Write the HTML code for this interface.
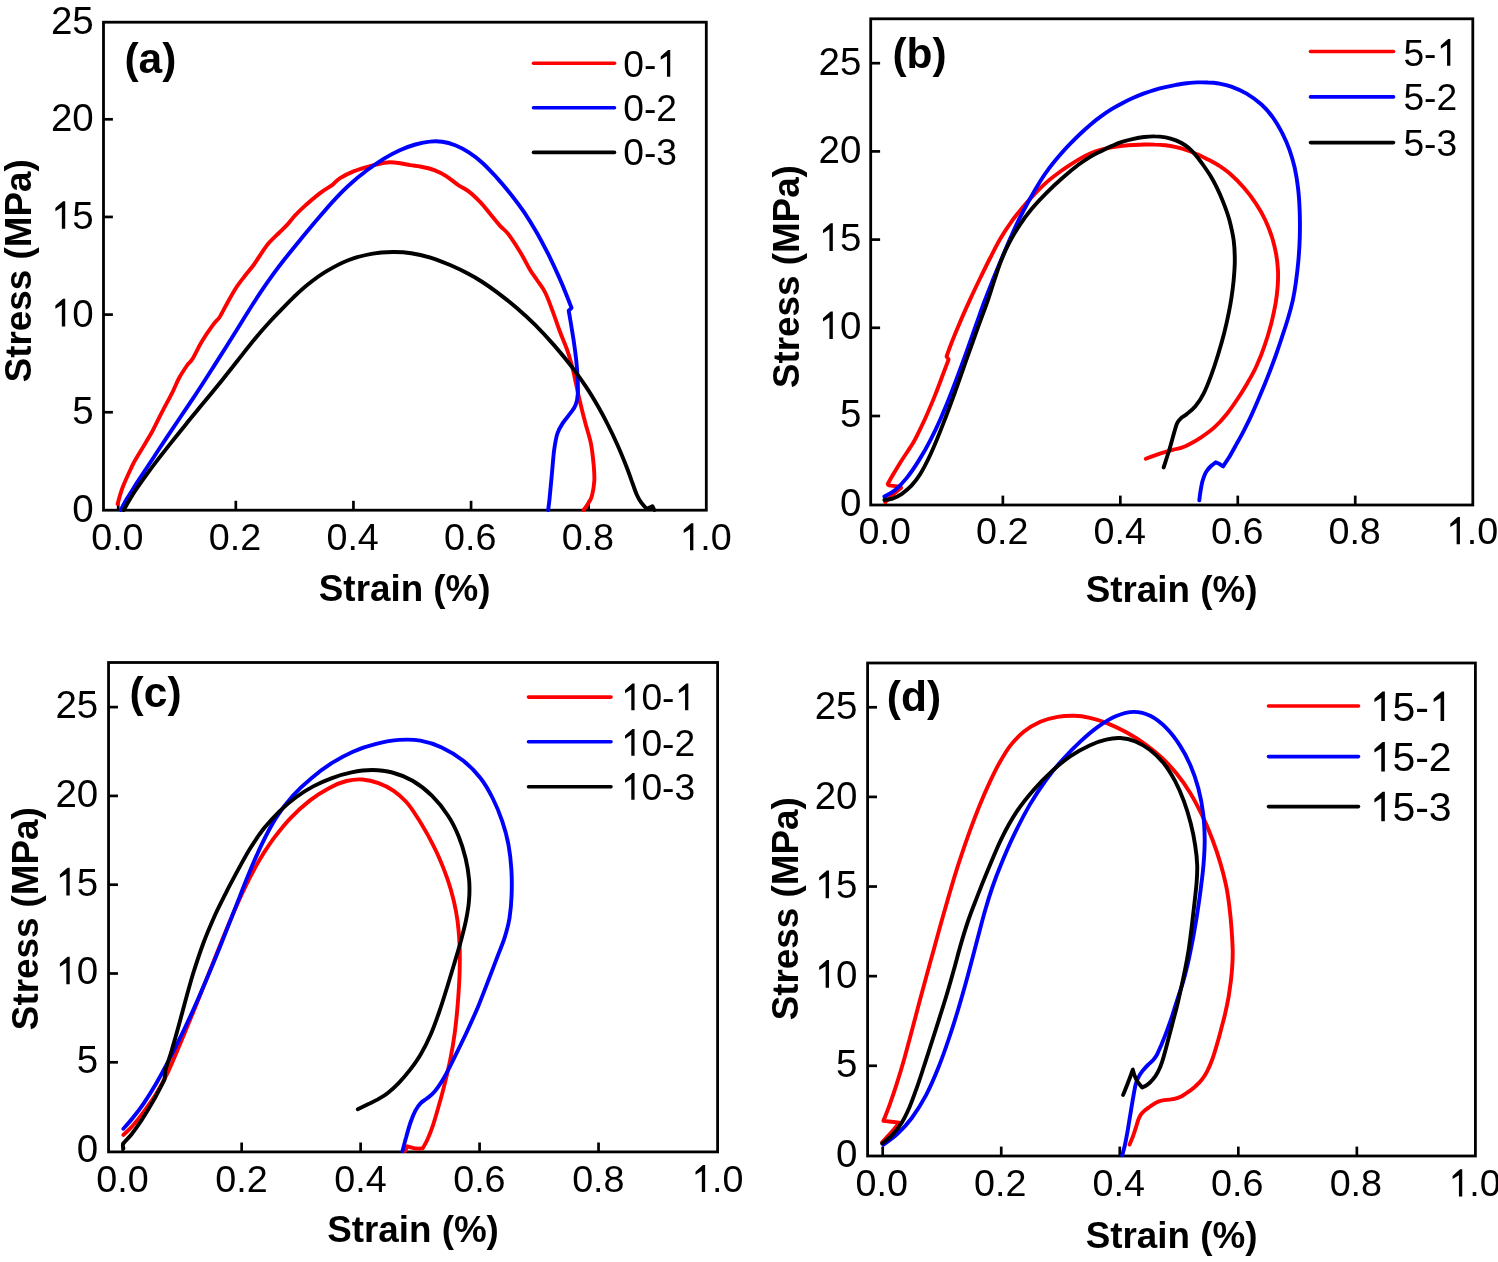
<!DOCTYPE html>
<html><head><meta charset="utf-8"><title>Stress-strain curves</title>
<style>html,body{margin:0;padding:0;background:#fff;overflow:hidden}svg{display:block;will-change:transform}</style></head>
<body><svg width="1498" height="1262" viewBox="0 0 1498 1262">
<rect width="1498" height="1262" fill="#fff"/>
<rect x="103.50" y="22.20" width="602.80" height="488.00" fill="none" stroke="#000" stroke-width="2.8"/>
<line x1="103.50" y1="412.25" x2="112.90" y2="412.25" stroke="#000" stroke-width="2.7"/>
<line x1="103.50" y1="314.60" x2="112.90" y2="314.60" stroke="#000" stroke-width="2.7"/>
<line x1="103.50" y1="216.95" x2="112.90" y2="216.95" stroke="#000" stroke-width="2.7"/>
<line x1="103.50" y1="119.30" x2="112.90" y2="119.30" stroke="#000" stroke-width="2.7"/>
<line x1="118.20" y1="510.20" x2="118.20" y2="500.80" stroke="#000" stroke-width="2.7"/>
<line x1="235.82" y1="510.20" x2="235.82" y2="500.80" stroke="#000" stroke-width="2.7"/>
<line x1="353.44" y1="510.20" x2="353.44" y2="500.80" stroke="#000" stroke-width="2.7"/>
<line x1="471.06" y1="510.20" x2="471.06" y2="500.80" stroke="#000" stroke-width="2.7"/>
<line x1="588.68" y1="510.20" x2="588.68" y2="500.80" stroke="#000" stroke-width="2.7"/>
<text x="72.29" y="521.80" font-family="Liberation Sans, sans-serif" font-size="38.5">0</text>
<text x="72.29" y="424.15" font-family="Liberation Sans, sans-serif" font-size="38.5">5</text>
<path d="M65.22,326.50 L61.84,326.50 L61.84,304.94 L55.39,308.83 L55.39,305.60 Q59.34,301.97 63.06,298.83 L65.22,298.83 Z" fill="#000"/>
<text x="72.29" y="326.50" font-family="Liberation Sans, sans-serif" font-size="38.5">0</text>
<path d="M65.22,228.85 L61.84,228.85 L61.84,207.29 L55.39,211.18 L55.39,207.95 Q59.34,204.32 63.06,201.18 L65.22,201.18 Z" fill="#000"/>
<text x="72.29" y="228.85" font-family="Liberation Sans, sans-serif" font-size="38.5">5</text>
<text x="50.88" y="131.20" font-family="Liberation Sans, sans-serif" font-size="38.5">20</text>
<text x="50.88" y="33.55" font-family="Liberation Sans, sans-serif" font-size="38.5">25</text>
<text x="91.20" y="550.30" font-family="Liberation Sans, sans-serif" font-size="37.7">0.0</text>
<text x="208.82" y="550.30" font-family="Liberation Sans, sans-serif" font-size="37.7">0.2</text>
<text x="326.44" y="550.30" font-family="Liberation Sans, sans-serif" font-size="37.7">0.4</text>
<text x="444.06" y="550.30" font-family="Liberation Sans, sans-serif" font-size="37.7">0.6</text>
<text x="561.68" y="550.30" font-family="Liberation Sans, sans-serif" font-size="37.7">0.8</text>
<path d="M693.34,550.30 L690.03,550.30 L690.03,529.19 L683.71,533.00 L683.71,529.83 Q687.58,526.28 691.22,523.20 L693.34,523.20 Z" fill="#000"/>
<text x="700.26" y="550.30" font-family="Liberation Sans, sans-serif" font-size="37.7">.0</text>
<text x="404.70" y="600.70" font-family="Liberation Sans, sans-serif" font-size="36.8" font-weight="bold" text-anchor="middle">Strain (%)</text>
<text transform="translate(31.00,270.80) rotate(-90)" font-family="Liberation Sans, sans-serif" font-size="36.8" font-weight="bold" text-anchor="middle">Stress (MPa)</text>
<text x="124.40" y="72.90" font-family="Liberation Sans, sans-serif" font-size="42.5" font-weight="bold">(a)</text>
<line x1="533.50" y1="63.30" x2="614.50" y2="63.30" stroke="#ff0000" stroke-width="3.6" stroke-linecap="round"/>
<text x="623.30" y="76.80" font-family="Liberation Sans, sans-serif" font-size="37.2">0-</text>
<path d="M670.24,76.80 L666.97,76.80 L666.97,55.97 L660.74,59.73 L660.74,56.60 Q664.55,53.10 668.15,50.06 L670.24,50.06 Z" fill="#000"/>
<line x1="533.50" y1="107.70" x2="614.50" y2="107.70" stroke="#0000ff" stroke-width="3.6" stroke-linecap="round"/>
<text x="623.30" y="121.20" font-family="Liberation Sans, sans-serif" font-size="37.2">0-2</text>
<line x1="533.50" y1="152.40" x2="614.50" y2="152.40" stroke="#000000" stroke-width="3.6" stroke-linecap="round"/>
<text x="623.30" y="165.30" font-family="Liberation Sans, sans-serif" font-size="37.2">0-3</text>
<path d="M117.6,504.0 C118.4,501.2 120.4,493.2 122.6,487.5 C124.8,481.8 128.4,474.0 130.5,469.5 C132.6,465.0 132.6,464.7 135.0,460.4 C137.4,456.1 142.2,448.6 145.2,443.5 C148.2,438.4 150.3,435.2 153.1,429.9 C155.9,424.6 158.9,418.1 162.1,411.9 C165.3,405.7 169.5,398.2 172.3,392.6 C175.1,387.0 176.7,382.5 179.1,378.0 C181.5,373.5 184.8,368.7 187.0,365.5 C189.2,362.3 190.2,362.8 192.6,358.8 C195.0,354.9 198.3,347.5 201.7,341.8 C205.1,336.1 210.0,329.0 213.0,324.9 C216.0,320.8 217.4,320.4 219.7,317.0 C221.9,313.6 223.9,309.2 226.5,304.5 C229.1,299.8 232.5,293.4 235.5,288.7 C238.5,284.0 241.6,280.2 244.6,276.3 C247.6,272.4 251.0,268.6 253.6,265.0 C256.2,261.4 257.9,258.4 260.4,254.8 C262.9,251.2 265.7,246.7 268.8,243.1 C271.9,239.5 275.7,236.2 278.9,233.0 C282.1,229.8 285.3,226.8 287.8,224.1 C290.3,221.3 291.6,219.2 294.1,216.5 C296.6,213.8 298.7,211.5 303.0,207.6 C307.3,203.7 315.2,196.8 320.1,193.1 C325.0,189.3 328.8,187.6 332.1,185.1 C335.4,182.6 336.4,180.4 340.1,178.1 C343.8,175.8 349.1,173.1 354.1,171.1 C359.1,169.1 365.1,167.5 370.1,166.1 C375.1,164.7 380.2,163.3 384.2,162.7 C388.2,162.1 389.9,162.1 394.2,162.5 C398.5,162.9 405.9,164.4 410.2,165.1 C414.5,165.8 416.2,165.7 420.2,166.5 C424.2,167.3 429.9,168.5 434.2,170.1 C438.5,171.7 442.2,173.6 446.2,176.1 C450.2,178.6 454.6,182.6 458.3,185.1 C462.0,187.6 464.6,188.3 468.3,191.1 C472.0,193.9 476.6,198.3 480.3,202.1 C484.0,205.9 487.0,210.1 490.3,214.1 C493.6,218.1 497.3,222.8 500.3,226.1 C503.3,229.4 505.0,229.8 508.3,234.2 C511.6,238.5 516.6,246.2 520.3,252.2 C524.0,258.2 527.5,265.6 530.3,270.2 C533.1,274.8 534.5,276.2 537.0,280.0 C539.5,283.8 542.8,287.7 545.4,293.0 C548.0,298.3 550.5,305.4 552.8,311.6 C555.1,317.8 557.1,324.1 559.4,330.3 C561.7,336.5 564.6,342.7 566.8,348.9 C569.0,355.1 570.8,361.6 572.4,367.5 C574.0,373.4 574.9,378.6 576.1,384.2 C577.3,389.8 578.2,394.5 579.8,401.0 C581.3,407.5 583.5,416.2 585.4,423.3 C587.3,430.4 589.6,436.7 591.0,443.8 C592.4,450.9 593.2,460.0 593.8,466.2 C594.3,472.4 594.6,476.1 594.3,481.0 C594.0,485.9 592.9,492.2 591.9,495.9 C590.9,499.6 589.6,501.0 588.2,503.4 C586.8,505.8 584.4,508.9 583.6,510.0" fill="none" stroke="#ff0000" stroke-width="3.9" stroke-linejoin="round" stroke-linecap="round"/>
<path d="M120.8,510.0 C121.8,508.1 124.3,503.1 127.0,498.6 C129.8,494.0 133.0,489.0 137.0,482.6 C141.1,476.3 146.5,468.2 151.6,460.5 C156.6,452.8 162.3,444.1 167.3,436.6 C172.3,429.1 176.9,422.3 181.5,415.5 C186.1,408.7 190.4,402.5 194.9,395.7 C199.4,388.9 203.9,381.8 208.4,374.8 C212.9,367.7 217.5,360.5 222.0,353.4 C226.6,346.2 231.2,338.8 235.6,331.7 C240.1,324.6 244.4,317.4 248.7,310.7 C252.9,304.0 257.0,297.6 261.0,291.7 C265.0,285.7 268.7,280.4 272.7,274.9 C276.7,269.4 280.2,264.7 284.9,258.8 C289.6,252.9 295.0,246.3 300.7,239.3 C306.4,232.4 313.2,224.1 319.1,217.3 C324.9,210.4 330.5,203.9 335.8,198.3 C341.1,192.7 345.7,188.1 350.9,183.5 C356.1,178.8 361.6,174.4 367.0,170.3 C372.5,166.2 378.2,162.2 383.6,158.8 C389.1,155.5 394.5,152.6 399.8,150.2 C405.1,147.8 410.4,145.9 415.4,144.5 C420.4,143.1 425.2,142.0 429.7,141.6 C434.1,141.1 438.0,141.1 442.2,141.7 C446.5,142.3 450.7,143.5 455.2,145.3 C459.7,147.1 464.6,149.6 469.2,152.6 C473.8,155.5 478.3,159.1 482.8,163.2 C487.3,167.3 491.7,172.1 496.3,177.1 C500.9,182.2 505.7,187.9 510.4,193.7 C515.0,199.6 519.7,205.7 524.1,212.1 C528.4,218.6 532.6,225.3 536.7,232.4 C540.7,239.4 544.7,247.1 548.4,254.4 C552.0,261.7 555.7,269.7 558.7,276.4 C561.7,283.1 564.5,289.9 566.4,294.7 C568.4,299.5 569.6,302.9 570.4,305.1 C571.3,307.2 571.3,307.4 571.5,307.9 C571.0,308.4 569.2,310.2 568.7,310.7 C569.1,312.9 570.1,318.9 571.0,324.0 C571.8,329.1 572.9,335.4 573.8,341.5 C574.7,347.6 575.6,354.5 576.3,360.7 C576.9,366.8 577.4,373.0 577.6,378.5 C577.9,384.1 578.1,389.5 577.8,393.8 C577.5,398.2 577.0,401.5 575.7,404.7 C574.5,407.9 572.5,410.2 570.4,413.2 C568.3,416.1 565.3,419.2 563.1,422.6 C561.0,425.9 558.9,428.9 557.4,433.5 C555.9,438.1 555.1,443.2 554.1,450.3 C553.2,457.4 552.5,467.9 551.7,476.0 C550.9,484.1 550.1,493.5 549.5,499.2 C548.9,504.8 548.4,508.2 548.2,510.0" fill="none" stroke="#0000ff" stroke-width="3.9" stroke-linejoin="round" stroke-linecap="round"/>
<path d="M123.7,510.0 C125.5,506.9 130.4,498.2 134.7,491.5 C139.1,484.9 144.2,477.7 149.7,470.3 C155.2,462.9 161.6,454.7 167.6,447.1 C173.5,439.6 179.6,432.0 185.4,424.9 C191.1,417.8 196.5,411.4 202.1,404.6 C207.8,397.8 213.1,391.4 219.0,384.1 C224.9,376.8 231.4,368.4 237.5,360.7 C243.6,353.0 250.2,344.5 255.6,338.0 C261.0,331.5 265.5,326.5 269.8,321.8 C274.1,317.0 277.4,313.7 281.4,309.6 C285.4,305.5 289.3,301.3 293.7,297.1 C298.2,292.9 302.7,288.6 308.1,284.3 C313.5,280.0 319.5,275.4 326.2,271.4 C332.9,267.4 340.7,263.1 348.2,260.2 C355.8,257.2 364.0,255.2 371.4,253.8 C378.8,252.5 385.9,252.1 392.5,252.0 C399.1,251.9 404.8,252.2 411.2,253.2 C417.5,254.1 423.8,255.6 430.4,257.6 C437.0,259.6 444.5,262.7 450.7,265.3 C456.9,268.0 462.7,270.8 467.8,273.5 C473.0,276.2 476.7,278.3 481.6,281.5 C486.6,284.7 491.7,288.3 497.5,292.6 C503.2,296.9 509.9,302.1 516.2,307.5 C522.5,312.9 529.0,318.8 535.4,325.1 C541.7,331.4 548.2,338.5 554.2,345.4 C560.2,352.3 566.3,359.7 571.6,366.6 C576.9,373.5 581.7,380.2 586.1,386.8 C590.5,393.4 594.3,399.8 598.0,406.2 C601.6,412.5 604.8,418.5 608.0,425.0 C611.3,431.5 614.4,438.1 617.5,445.0 C620.5,451.9 623.9,460.0 626.4,466.5 C629.0,473.0 631.1,479.3 632.8,484.0 C634.5,488.7 635.4,491.7 636.8,494.7 C638.1,497.7 639.4,499.9 641.1,502.3 C642.8,504.7 645.9,507.9 646.8,509.0 C647.3,508.8 648.9,508.0 649.8,507.5 C650.8,507.1 652.0,506.4 652.4,506.2 C652.7,506.8 654.0,509.4 654.3,510.0" fill="none" stroke="#000000" stroke-width="3.9" stroke-linejoin="round" stroke-linecap="round"/>
<rect x="870.70" y="18.80" width="602.10" height="486.20" fill="none" stroke="#000" stroke-width="2.8"/>
<line x1="870.70" y1="416.00" x2="880.10" y2="416.00" stroke="#000" stroke-width="2.7"/>
<line x1="870.70" y1="327.80" x2="880.10" y2="327.80" stroke="#000" stroke-width="2.7"/>
<line x1="870.70" y1="239.60" x2="880.10" y2="239.60" stroke="#000" stroke-width="2.7"/>
<line x1="870.70" y1="151.40" x2="880.10" y2="151.40" stroke="#000" stroke-width="2.7"/>
<line x1="870.70" y1="63.20" x2="880.10" y2="63.20" stroke="#000" stroke-width="2.7"/>
<line x1="885.40" y1="505.00" x2="885.40" y2="495.60" stroke="#000" stroke-width="2.7"/>
<line x1="1002.86" y1="505.00" x2="1002.86" y2="495.60" stroke="#000" stroke-width="2.7"/>
<line x1="1120.32" y1="505.00" x2="1120.32" y2="495.60" stroke="#000" stroke-width="2.7"/>
<line x1="1237.78" y1="505.00" x2="1237.78" y2="495.60" stroke="#000" stroke-width="2.7"/>
<line x1="1355.24" y1="505.00" x2="1355.24" y2="495.60" stroke="#000" stroke-width="2.7"/>
<text x="839.89" y="515.50" font-family="Liberation Sans, sans-serif" font-size="38.5">0</text>
<text x="839.89" y="427.30" font-family="Liberation Sans, sans-serif" font-size="38.5">5</text>
<path d="M832.82,339.10 L829.44,339.10 L829.44,317.54 L822.99,321.43 L822.99,318.20 Q826.94,314.57 830.66,311.43 L832.82,311.43 Z" fill="#000"/>
<text x="839.89" y="339.10" font-family="Liberation Sans, sans-serif" font-size="38.5">0</text>
<path d="M832.82,250.90 L829.44,250.90 L829.44,229.34 L822.99,233.23 L822.99,230.00 Q826.94,226.37 830.66,223.23 L832.82,223.23 Z" fill="#000"/>
<text x="839.89" y="250.90" font-family="Liberation Sans, sans-serif" font-size="38.5">5</text>
<text x="818.48" y="162.70" font-family="Liberation Sans, sans-serif" font-size="38.5">20</text>
<text x="818.48" y="74.50" font-family="Liberation Sans, sans-serif" font-size="38.5">25</text>
<text x="858.60" y="544.20" font-family="Liberation Sans, sans-serif" font-size="37.7">0.0</text>
<text x="976.06" y="544.20" font-family="Liberation Sans, sans-serif" font-size="37.7">0.2</text>
<text x="1093.52" y="544.20" font-family="Liberation Sans, sans-serif" font-size="37.7">0.4</text>
<text x="1210.98" y="544.20" font-family="Liberation Sans, sans-serif" font-size="37.7">0.6</text>
<text x="1328.44" y="544.20" font-family="Liberation Sans, sans-serif" font-size="37.7">0.8</text>
<path d="M1459.94,544.20 L1456.63,544.20 L1456.63,523.09 L1450.31,526.90 L1450.31,523.73 Q1454.18,520.18 1457.82,517.10 L1459.94,517.10 Z" fill="#000"/>
<text x="1466.86" y="544.20" font-family="Liberation Sans, sans-serif" font-size="37.7">.0</text>
<text x="1171.60" y="602.10" font-family="Liberation Sans, sans-serif" font-size="36.8" font-weight="bold" text-anchor="middle">Strain (%)</text>
<text transform="translate(799.20,276.60) rotate(-90)" font-family="Liberation Sans, sans-serif" font-size="36.8" font-weight="bold" text-anchor="middle">Stress (MPa)</text>
<text x="892.40" y="67.70" font-family="Liberation Sans, sans-serif" font-size="42.5" font-weight="bold">(b)</text>
<line x1="1310.50" y1="51.50" x2="1393.50" y2="51.50" stroke="#ff0000" stroke-width="3.6" stroke-linecap="round"/>
<text x="1403.40" y="65.70" font-family="Liberation Sans, sans-serif" font-size="37.2">5-</text>
<path d="M1450.34,65.70 L1447.07,65.70 L1447.07,44.87 L1440.84,48.63 L1440.84,45.50 Q1444.65,42.00 1448.25,38.96 L1450.34,38.96 Z" fill="#000"/>
<line x1="1310.50" y1="96.90" x2="1393.50" y2="96.90" stroke="#0000ff" stroke-width="3.6" stroke-linecap="round"/>
<text x="1403.40" y="110.10" font-family="Liberation Sans, sans-serif" font-size="37.2">5-2</text>
<line x1="1310.50" y1="142.60" x2="1393.50" y2="142.60" stroke="#000000" stroke-width="3.6" stroke-linecap="round"/>
<text x="1403.40" y="156.10" font-family="Liberation Sans, sans-serif" font-size="37.2">5-3</text>
<path d="M885.3,502.1 C886.6,500.9 890.4,497.1 893.1,494.7 C895.7,492.3 899.8,488.9 901.1,487.7 C900.4,487.5 899.0,486.7 897.0,486.3 C894.9,485.9 890.5,485.7 889.0,485.3 C887.5,484.9 888.0,484.1 887.8,483.8 C888.6,482.4 890.5,479.0 892.5,475.6 C894.5,472.2 897.4,467.3 899.9,463.2 C902.5,459.1 905.7,454.3 907.9,451.0 C910.1,447.6 911.6,445.6 913.1,442.9 C914.7,440.2 915.5,438.7 917.5,434.6 C919.5,430.6 922.1,425.3 925.1,418.8 C928.0,412.2 932.0,402.9 935.0,395.4 C938.0,388.0 940.9,379.9 943.1,374.0 C945.4,368.0 947.7,362.0 948.6,359.6 C948.3,359.1 946.9,356.9 946.6,356.4 C947.3,354.4 948.8,349.9 950.9,344.5 C953.0,339.0 956.1,331.4 959.4,323.7 C962.6,316.0 967.0,306.3 970.6,298.4 C974.2,290.5 977.8,283.1 981.1,276.3 C984.4,269.5 987.2,263.7 990.4,257.5 C993.6,251.2 996.8,244.8 1000.3,238.8 C1003.8,232.8 1007.7,226.8 1011.5,221.6 C1015.2,216.4 1018.9,212.1 1022.6,207.6 C1026.3,203.2 1029.7,199.2 1033.6,195.1 C1037.5,191.0 1041.6,186.8 1045.7,183.1 C1049.9,179.3 1054.6,175.8 1058.7,172.8 C1062.8,169.7 1066.8,167.1 1070.5,164.7 C1074.1,162.3 1077.2,160.3 1080.6,158.4 C1084.0,156.5 1087.2,154.8 1090.7,153.3 C1094.1,151.9 1097.8,150.7 1101.3,149.7 C1104.9,148.7 1108.5,148.0 1112.0,147.3 C1115.6,146.7 1119.1,146.3 1122.7,145.9 C1126.3,145.5 1129.8,145.2 1133.4,145.0 C1137.0,144.8 1140.5,144.6 1144.1,144.5 C1147.7,144.5 1151.2,144.4 1154.8,144.6 C1158.3,144.7 1161.9,144.9 1165.4,145.3 C1169.0,145.7 1172.5,146.3 1176.1,147.1 C1179.7,147.9 1183.2,148.9 1186.8,150.1 C1190.4,151.3 1194.0,152.8 1197.5,154.4 C1201.1,155.9 1204.5,157.7 1208.1,159.5 C1211.6,161.4 1215.0,163.1 1218.8,165.5 C1222.5,168.0 1226.5,170.6 1230.6,174.3 C1234.8,178.0 1239.5,182.7 1243.7,187.6 C1247.9,192.4 1252.2,198.0 1255.8,203.3 C1259.4,208.7 1262.5,214.1 1265.1,219.7 C1267.8,225.3 1270.0,231.1 1271.9,236.9 C1273.7,242.7 1275.2,248.8 1276.2,254.4 C1277.2,260.1 1277.7,265.4 1278.0,270.7 C1278.2,276.0 1278.1,280.6 1277.7,286.0 C1277.3,291.3 1276.7,296.7 1275.7,302.9 C1274.6,309.1 1273.1,316.2 1271.3,323.4 C1269.4,330.6 1266.9,339.0 1264.4,346.2 C1262.0,353.4 1259.1,360.4 1256.3,366.5 C1253.5,372.7 1250.6,377.6 1247.5,382.9 C1244.4,388.3 1241.2,393.3 1237.8,398.5 C1234.4,403.6 1230.8,409.1 1227.0,413.8 C1223.2,418.6 1219.2,423.1 1214.9,426.9 C1210.7,430.8 1205.8,434.2 1201.5,437.1 C1197.3,440.0 1192.8,442.5 1189.4,444.3 C1186.0,446.1 1183.7,447.0 1181.1,447.9 C1178.4,448.8 1176.6,448.8 1173.4,449.6 C1170.1,450.5 1166.0,451.6 1161.4,453.1 C1156.8,454.6 1148.4,457.8 1145.8,458.8" fill="none" stroke="#ff0000" stroke-width="3.9" stroke-linejoin="round" stroke-linecap="round"/>
<path d="M884.4,496.5 C886.2,495.5 891.2,493.3 894.9,490.2 C898.7,487.1 902.7,483.0 906.8,477.9 C910.8,472.9 915.3,466.2 919.2,459.9 C923.2,453.6 926.9,447.0 930.4,440.1 C934.0,433.2 937.1,426.7 940.7,418.5 C944.3,410.2 948.2,400.9 952.1,390.7 C956.1,380.6 960.6,368.2 964.5,357.5 C968.4,346.7 972.2,335.6 975.5,326.3 C978.9,316.9 981.6,309.1 984.5,301.3 C987.4,293.5 990.2,286.6 993.1,279.3 C996.0,272.0 999.1,264.6 1002.0,257.7 C1005.0,250.7 1007.8,244.0 1010.6,237.6 C1013.5,231.2 1016.2,225.2 1019.1,219.2 C1022.1,213.3 1025.2,207.5 1028.3,201.8 C1031.4,196.2 1034.5,190.6 1037.7,185.4 C1040.9,180.1 1044.0,175.2 1047.6,170.4 C1051.1,165.5 1055.0,160.8 1058.8,156.3 C1062.6,151.9 1066.6,147.5 1070.3,143.7 C1073.9,139.9 1077.2,136.7 1080.6,133.5 C1084.0,130.2 1087.2,127.3 1090.7,124.4 C1094.1,121.5 1097.8,118.6 1101.3,116.1 C1104.9,113.5 1108.5,111.1 1112.0,108.9 C1115.6,106.8 1119.1,104.9 1122.7,103.0 C1126.3,101.1 1129.8,99.4 1133.4,97.8 C1137.0,96.2 1140.5,94.8 1144.1,93.4 C1147.7,92.1 1151.2,90.9 1154.8,89.8 C1158.3,88.8 1161.9,87.9 1165.4,87.1 C1169.0,86.3 1172.5,85.6 1176.1,84.9 C1179.7,84.3 1183.2,83.7 1186.8,83.3 C1190.4,82.9 1194.0,82.5 1197.5,82.4 C1201.1,82.3 1204.5,82.3 1208.0,82.5 C1211.5,82.6 1214.7,82.8 1218.6,83.5 C1222.4,84.2 1226.6,84.9 1231.3,86.6 C1235.9,88.3 1241.6,90.6 1246.6,93.6 C1251.6,96.6 1257.0,100.4 1261.5,104.5 C1266.0,108.6 1270.0,113.4 1273.5,118.3 C1276.9,123.1 1279.8,128.4 1282.5,133.6 C1285.1,138.8 1287.4,144.0 1289.4,149.6 C1291.4,155.3 1293.1,161.0 1294.6,167.3 C1296.0,173.7 1297.2,180.5 1298.0,187.8 C1298.9,195.1 1299.4,203.1 1299.7,211.2 C1300.0,219.4 1300.0,228.2 1299.8,236.6 C1299.6,245.0 1299.0,253.9 1298.3,261.6 C1297.6,269.3 1296.7,276.5 1295.8,282.9 C1294.9,289.4 1294.0,294.6 1292.8,300.3 C1291.5,306.0 1290.1,311.2 1288.4,317.0 C1286.7,322.9 1284.7,329.0 1282.6,335.2 C1280.6,341.5 1278.4,347.9 1276.1,354.5 C1273.7,361.1 1271.2,367.9 1268.5,374.7 C1265.9,381.4 1263.0,388.5 1260.2,395.1 C1257.4,401.8 1254.6,408.4 1251.8,414.4 C1249.1,420.5 1246.2,426.1 1243.5,431.3 C1240.8,436.5 1238.1,441.2 1235.7,445.5 C1233.3,449.9 1231.2,453.8 1229.1,457.3 C1226.9,460.8 1224.1,464.9 1223.1,466.4 C1222.4,466.0 1220.3,464.4 1219.1,463.7 C1217.9,463.1 1216.4,462.5 1215.8,462.3 C1214.9,463.0 1212.2,464.8 1210.5,466.5 C1208.8,468.2 1207.1,470.0 1205.7,472.6 C1204.4,475.1 1203.2,478.5 1202.3,481.7 C1201.5,484.9 1200.9,488.8 1200.4,491.9 C1199.9,495.0 1199.5,499.0 1199.3,500.4" fill="none" stroke="#0000ff" stroke-width="3.9" stroke-linejoin="round" stroke-linecap="round"/>
<path d="M884.4,500.0 C885.8,499.8 889.6,499.7 892.5,498.7 C895.5,497.6 898.8,495.9 901.9,493.8 C904.9,491.7 907.9,489.4 910.9,486.2 C913.8,483.0 916.5,480.2 919.8,474.8 C923.1,469.4 926.8,462.3 930.8,453.7 C934.7,445.1 939.3,433.8 943.4,423.1 C947.6,412.5 951.8,400.9 955.8,389.9 C959.8,378.9 963.6,367.6 967.4,356.9 C971.2,346.3 975.1,335.5 978.4,326.2 C981.8,316.9 984.9,308.7 987.6,301.1 C990.2,293.5 992.1,287.1 994.3,280.5 C996.5,273.9 998.3,267.8 1000.8,261.5 C1003.3,255.2 1006.1,248.9 1009.3,242.7 C1012.5,236.6 1016.2,230.3 1020.0,224.6 C1023.7,218.9 1027.7,213.7 1032.0,208.5 C1036.3,203.4 1040.7,198.7 1045.8,193.6 C1050.8,188.6 1056.6,183.1 1062.1,178.3 C1067.5,173.5 1073.5,168.5 1078.4,164.8 C1083.2,161.1 1087.4,158.6 1091.2,156.2 C1095.1,153.9 1098.1,152.6 1101.6,150.9 C1105.1,149.1 1108.5,147.4 1112.0,145.9 C1115.5,144.3 1119.1,142.8 1122.7,141.7 C1126.3,140.5 1129.8,139.6 1133.4,138.8 C1137.0,138.0 1140.5,137.4 1144.1,137.0 C1147.7,136.6 1151.2,136.3 1154.8,136.4 C1158.4,136.4 1162.1,136.8 1165.6,137.4 C1169.1,138.1 1172.7,139.2 1175.9,140.4 C1179.1,141.7 1182.1,143.3 1184.8,145.0 C1187.4,146.7 1189.7,148.7 1191.8,150.8 C1194.0,153.0 1195.8,155.2 1197.8,157.7 C1199.8,160.3 1201.8,163.0 1203.9,166.0 C1206.0,169.0 1208.2,172.2 1210.3,175.6 C1212.4,179.1 1214.3,182.6 1216.5,186.8 C1218.6,191.1 1220.8,195.8 1222.9,201.4 C1225.1,206.9 1227.6,213.6 1229.4,220.1 C1231.1,226.7 1232.8,233.8 1233.7,240.6 C1234.6,247.5 1234.8,254.5 1234.8,261.2 C1234.8,267.9 1234.1,274.9 1233.6,280.9 C1233.0,287.0 1232.3,292.1 1231.5,297.5 C1230.7,302.8 1229.9,307.2 1228.7,313.2 C1227.5,319.1 1226.0,326.0 1224.2,333.0 C1222.4,340.0 1220.1,348.1 1217.9,355.3 C1215.7,362.5 1213.3,369.7 1210.9,376.1 C1208.5,382.5 1206.2,388.6 1203.6,393.6 C1201.1,398.6 1198.2,402.9 1195.4,406.3 C1192.6,409.7 1189.4,412.0 1186.9,414.0 C1184.4,416.1 1182.2,417.0 1180.6,418.6 C1178.9,420.2 1178.1,421.0 1177.0,423.5 C1175.9,425.9 1175.3,428.9 1174.0,433.1 C1172.8,437.3 1171.3,443.1 1169.6,448.8 C1167.8,454.5 1164.7,464.3 1163.7,467.4" fill="none" stroke="#000000" stroke-width="3.9" stroke-linejoin="round" stroke-linecap="round"/>
<rect x="108.55" y="662.50" width="609.05" height="489.40" fill="none" stroke="#000" stroke-width="2.8"/>
<line x1="108.55" y1="1062.30" x2="117.95" y2="1062.30" stroke="#000" stroke-width="2.7"/>
<line x1="108.55" y1="973.50" x2="117.95" y2="973.50" stroke="#000" stroke-width="2.7"/>
<line x1="108.55" y1="884.70" x2="117.95" y2="884.70" stroke="#000" stroke-width="2.7"/>
<line x1="108.55" y1="795.90" x2="117.95" y2="795.90" stroke="#000" stroke-width="2.7"/>
<line x1="108.55" y1="707.10" x2="117.95" y2="707.10" stroke="#000" stroke-width="2.7"/>
<line x1="122.70" y1="1151.90" x2="122.70" y2="1142.50" stroke="#000" stroke-width="2.7"/>
<line x1="241.66" y1="1151.90" x2="241.66" y2="1142.50" stroke="#000" stroke-width="2.7"/>
<line x1="360.62" y1="1151.90" x2="360.62" y2="1142.50" stroke="#000" stroke-width="2.7"/>
<line x1="479.58" y1="1151.90" x2="479.58" y2="1142.50" stroke="#000" stroke-width="2.7"/>
<line x1="598.54" y1="1151.90" x2="598.54" y2="1142.50" stroke="#000" stroke-width="2.7"/>
<text x="76.79" y="1161.90" font-family="Liberation Sans, sans-serif" font-size="38.5">0</text>
<text x="76.79" y="1073.10" font-family="Liberation Sans, sans-serif" font-size="38.5">5</text>
<path d="M69.72,984.30 L66.34,984.30 L66.34,962.74 L59.89,966.63 L59.89,963.40 Q63.84,959.77 67.56,956.63 L69.72,956.63 Z" fill="#000"/>
<text x="76.79" y="984.30" font-family="Liberation Sans, sans-serif" font-size="38.5">0</text>
<path d="M69.72,895.50 L66.34,895.50 L66.34,873.94 L59.89,877.83 L59.89,874.60 Q63.84,870.97 67.56,867.83 L69.72,867.83 Z" fill="#000"/>
<text x="76.79" y="895.50" font-family="Liberation Sans, sans-serif" font-size="38.5">5</text>
<text x="55.38" y="806.70" font-family="Liberation Sans, sans-serif" font-size="38.5">20</text>
<text x="55.38" y="717.90" font-family="Liberation Sans, sans-serif" font-size="38.5">25</text>
<text x="96.30" y="1192.10" font-family="Liberation Sans, sans-serif" font-size="37.7">0.0</text>
<text x="215.26" y="1192.10" font-family="Liberation Sans, sans-serif" font-size="37.7">0.2</text>
<text x="334.22" y="1192.10" font-family="Liberation Sans, sans-serif" font-size="37.7">0.4</text>
<text x="453.18" y="1192.10" font-family="Liberation Sans, sans-serif" font-size="37.7">0.6</text>
<text x="572.14" y="1192.10" font-family="Liberation Sans, sans-serif" font-size="37.7">0.8</text>
<path d="M705.14,1192.10 L701.83,1192.10 L701.83,1170.99 L695.51,1174.80 L695.51,1171.63 Q699.38,1168.08 703.02,1165.00 L705.14,1165.00 Z" fill="#000"/>
<text x="712.06" y="1192.10" font-family="Liberation Sans, sans-serif" font-size="37.7">.0</text>
<text x="413.00" y="1242.10" font-family="Liberation Sans, sans-serif" font-size="36.8" font-weight="bold" text-anchor="middle">Strain (%)</text>
<text transform="translate(38.10,918.70) rotate(-90)" font-family="Liberation Sans, sans-serif" font-size="36.8" font-weight="bold" text-anchor="middle">Stress (MPa)</text>
<text x="129.60" y="706.50" font-family="Liberation Sans, sans-serif" font-size="42.5" font-weight="bold">(c)</text>
<line x1="528.50" y1="697.10" x2="611.00" y2="697.10" stroke="#ff0000" stroke-width="3.6" stroke-linecap="round"/>
<path d="M634.56,710.30 L631.29,710.30 L631.29,689.47 L625.06,693.23 L625.06,690.10 Q628.87,686.60 632.47,683.56 L634.56,683.56 Z" fill="#000"/>
<text x="641.39" y="710.30" font-family="Liberation Sans, sans-serif" font-size="37.2">0-</text>
<path d="M688.32,710.30 L685.06,710.30 L685.06,689.47 L678.83,693.23 L678.83,690.10 Q682.64,686.60 686.24,683.56 L688.32,683.56 Z" fill="#000"/>
<line x1="528.50" y1="741.80" x2="611.00" y2="741.80" stroke="#0000ff" stroke-width="3.6" stroke-linecap="round"/>
<path d="M634.56,755.70 L631.29,755.70 L631.29,734.87 L625.06,738.63 L625.06,735.50 Q628.87,732.00 632.47,728.96 L634.56,728.96 Z" fill="#000"/>
<text x="641.39" y="755.70" font-family="Liberation Sans, sans-serif" font-size="37.2">0-2</text>
<line x1="528.50" y1="786.80" x2="611.00" y2="786.80" stroke="#000000" stroke-width="3.6" stroke-linecap="round"/>
<path d="M634.56,799.80 L631.29,799.80 L631.29,778.97 L625.06,782.73 L625.06,779.60 Q628.87,776.10 632.47,773.06 L634.56,773.06 Z" fill="#000"/>
<text x="641.39" y="799.80" font-family="Liberation Sans, sans-serif" font-size="37.2">0-3</text>
<path d="M123.4,1134.9 C125.0,1133.4 129.3,1129.6 132.7,1125.7 C136.2,1121.7 140.3,1116.6 144.1,1111.3 C148.0,1106.1 152.1,1100.5 155.9,1094.4 C159.6,1088.2 163.0,1082.3 166.8,1074.4 C170.7,1066.4 174.5,1057.2 178.9,1046.8 C183.3,1036.5 188.3,1024.2 193.2,1012.2 C198.1,1000.2 203.4,987.1 208.2,974.9 C213.1,962.7 218.0,950.4 222.5,939.2 C227.1,928.0 231.6,917.2 235.7,907.8 C239.8,898.3 243.9,889.6 247.3,882.7 C250.7,875.7 253.4,870.9 256.0,866.1 C258.7,861.3 260.2,858.6 263.2,853.9 C266.2,849.3 269.4,844.1 273.9,838.1 C278.4,832.2 284.3,824.6 290.3,818.3 C296.3,812.0 303.5,805.5 310.0,800.4 C316.5,795.3 323.3,791.1 329.4,787.9 C335.4,784.6 340.9,782.4 346.4,781.0 C351.9,779.6 357.0,779.2 362.4,779.5 C367.7,779.9 373.3,781.2 378.5,783.1 C383.8,785.0 389.1,787.6 393.7,790.8 C398.2,793.9 402.2,797.5 406.1,801.8 C410.0,806.1 413.3,811.1 416.9,816.7 C420.6,822.3 424.3,828.7 428.0,835.4 C431.6,842.1 435.5,849.6 438.8,857.0 C442.1,864.4 445.2,872.4 447.7,879.7 C450.2,887.0 452.1,894.0 453.8,900.9 C455.4,907.8 456.6,914.0 457.6,921.3 C458.5,928.6 459.2,936.2 459.6,944.7 C459.9,953.3 459.9,962.9 459.6,972.7 C459.3,982.4 458.6,993.3 457.8,1003.3 C457.0,1013.2 456.0,1023.4 454.8,1032.4 C453.6,1041.5 452.2,1049.6 450.6,1057.8 C449.0,1065.9 447.2,1073.6 445.3,1081.4 C443.4,1089.1 441.3,1097.2 439.2,1104.3 C437.2,1111.5 435.2,1118.5 433.3,1124.3 C431.4,1130.0 429.6,1134.6 427.8,1138.7 C426.1,1142.7 423.6,1146.8 422.7,1148.4 C421.6,1148.4 418.5,1148.9 415.9,1148.5 C413.4,1148.2 408.7,1146.7 407.3,1146.3 C406.9,1147.1 405.6,1150.2 405.2,1151.0" fill="none" stroke="#ff0000" stroke-width="3.9" stroke-linejoin="round" stroke-linecap="round"/>
<path d="M123.4,1128.7 C125.0,1126.9 129.3,1122.3 132.7,1118.0 C136.2,1113.7 140.3,1108.5 144.1,1102.8 C148.0,1097.2 152.1,1090.6 155.9,1084.1 C159.6,1077.7 163.0,1071.5 166.8,1064.2 C170.7,1056.8 174.6,1049.2 179.0,1040.2 C183.4,1031.1 188.5,1020.4 193.3,1009.8 C198.0,999.3 202.9,987.8 207.6,976.8 C212.2,965.9 216.6,955.1 221.1,943.9 C225.6,932.8 230.0,921.3 234.5,910.0 C239.0,898.7 243.4,887.0 247.9,876.1 C252.4,865.2 256.9,854.5 261.5,844.8 C266.2,835.1 270.8,826.1 276.0,817.9 C281.2,809.8 286.7,802.6 292.6,796.0 C298.5,789.3 305.1,783.3 311.7,777.9 C318.2,772.4 324.8,767.5 331.7,763.1 C338.6,758.8 345.5,755.0 352.9,751.7 C360.3,748.5 368.5,745.8 376.2,743.9 C384.0,741.9 392.0,740.4 399.3,739.9 C406.7,739.4 413.4,739.4 420.4,740.7 C427.5,742.0 434.6,744.2 441.7,747.5 C448.8,750.8 456.6,755.5 463.0,760.5 C469.5,765.6 475.4,771.6 480.4,778.0 C485.4,784.3 489.2,791.3 492.8,798.5 C496.5,805.7 499.6,813.5 502.2,821.2 C504.8,828.9 507.0,836.8 508.5,844.9 C510.0,853.0 510.9,861.4 511.4,869.8 C511.9,878.2 511.9,887.3 511.6,895.3 C511.3,903.3 510.6,911.1 509.5,918.1 C508.4,925.0 506.8,930.7 504.8,937.1 C502.8,943.5 500.2,949.4 497.5,956.5 C494.8,963.6 491.9,971.4 488.6,979.8 C485.4,988.1 481.8,997.7 478.1,1006.7 C474.3,1015.6 470.0,1025.0 466.1,1033.5 C462.1,1041.9 458.2,1049.9 454.5,1057.3 C450.8,1064.7 447.4,1071.9 444.0,1077.7 C440.6,1083.5 437.2,1088.5 434.2,1092.0 C431.3,1095.5 428.8,1096.9 426.5,1098.8 C424.2,1100.6 422.5,1101.1 420.7,1103.1 C418.8,1105.1 417.1,1107.4 415.4,1110.7 C413.7,1113.9 412.0,1118.2 410.5,1122.5 C409.0,1126.8 407.6,1131.9 406.3,1136.7 C404.9,1141.4 403.1,1148.6 402.5,1151.0" fill="none" stroke="#0000ff" stroke-width="3.9" stroke-linejoin="round" stroke-linecap="round"/>
<path d="M123.4,1148.4 C123.4,1147.6 122.1,1145.8 123.4,1143.5 C124.7,1141.2 128.3,1138.4 131.4,1134.5 C134.5,1130.5 138.2,1125.4 141.9,1119.7 C145.6,1114.0 149.8,1107.1 153.6,1100.4 C157.3,1093.7 162.7,1083.0 164.5,1079.5 C164.7,1077.9 165.3,1071.6 165.5,1070.0 C166.5,1067.0 169.3,1058.2 171.3,1051.8 C173.2,1045.4 175.0,1039.3 177.1,1031.6 C179.3,1023.9 181.5,1015.2 184.1,1005.7 C186.7,996.1 189.7,984.8 192.9,974.3 C196.2,963.8 199.8,952.8 203.5,942.8 C207.2,932.8 211.4,923.2 215.4,914.2 C219.5,905.3 223.8,897.0 227.8,889.2 C231.8,881.4 235.6,874.4 239.4,867.4 C243.2,860.5 246.6,854.0 250.7,847.5 C254.8,841.0 259.2,834.4 264.0,828.3 C268.9,822.3 274.4,816.3 279.7,811.1 C285.1,805.8 290.8,801.1 296.4,797.0 C302.0,792.9 307.4,789.5 313.2,786.4 C319.1,783.2 325.0,780.6 331.3,778.3 C337.7,775.9 344.7,773.8 351.5,772.4 C358.3,771.0 365.4,770.0 372.2,770.0 C379.0,770.1 385.6,770.7 392.3,772.5 C399.1,774.3 406.0,776.9 412.6,780.8 C419.3,784.7 426.3,790.2 432.1,795.9 C438.0,801.7 443.5,808.7 447.9,815.5 C452.4,822.2 455.8,829.4 458.7,836.5 C461.6,843.6 463.8,851.0 465.6,858.2 C467.3,865.4 468.5,872.7 469.1,879.7 C469.7,886.7 469.6,893.3 469.0,900.3 C468.5,907.3 467.2,914.4 465.7,921.7 C464.2,928.9 462.1,936.4 460.2,943.6 C458.2,950.8 456.1,957.6 453.9,964.8 C451.7,972.0 449.6,979.2 447.2,987.0 C444.8,994.7 442.3,1003.1 439.5,1011.0 C436.8,1018.9 433.9,1027.1 430.8,1034.2 C427.7,1041.4 424.4,1048.0 420.9,1053.9 C417.5,1059.9 413.7,1065.0 410.0,1069.9 C406.2,1074.8 402.2,1079.4 398.4,1083.3 C394.7,1087.1 390.9,1090.5 387.5,1093.2 C384.1,1095.9 381.1,1097.5 377.9,1099.4 C374.7,1101.2 371.8,1102.5 368.5,1104.1 C365.1,1105.8 359.6,1108.4 357.8,1109.2" fill="none" stroke="#000000" stroke-width="3.9" stroke-linejoin="round" stroke-linecap="round"/>
<rect x="867.60" y="663.00" width="607.80" height="493.00" fill="none" stroke="#000" stroke-width="2.8"/>
<line x1="867.60" y1="1065.78" x2="877.00" y2="1065.78" stroke="#000" stroke-width="2.7"/>
<line x1="867.60" y1="976.15" x2="877.00" y2="976.15" stroke="#000" stroke-width="2.7"/>
<line x1="867.60" y1="886.53" x2="877.00" y2="886.53" stroke="#000" stroke-width="2.7"/>
<line x1="867.60" y1="796.90" x2="877.00" y2="796.90" stroke="#000" stroke-width="2.7"/>
<line x1="867.60" y1="707.28" x2="877.00" y2="707.28" stroke="#000" stroke-width="2.7"/>
<line x1="882.70" y1="1156.00" x2="882.70" y2="1146.60" stroke="#000" stroke-width="2.7"/>
<line x1="1001.24" y1="1156.00" x2="1001.24" y2="1146.60" stroke="#000" stroke-width="2.7"/>
<line x1="1119.78" y1="1156.00" x2="1119.78" y2="1146.60" stroke="#000" stroke-width="2.7"/>
<line x1="1238.32" y1="1156.00" x2="1238.32" y2="1146.60" stroke="#000" stroke-width="2.7"/>
<line x1="1356.86" y1="1156.00" x2="1356.86" y2="1146.60" stroke="#000" stroke-width="2.7"/>
<text x="836.09" y="1167.00" font-family="Liberation Sans, sans-serif" font-size="38.5">0</text>
<text x="836.09" y="1077.38" font-family="Liberation Sans, sans-serif" font-size="38.5">5</text>
<path d="M829.02,987.75 L825.64,987.75 L825.64,966.19 L819.19,970.08 L819.19,966.85 Q823.14,963.22 826.86,960.08 L829.02,960.08 Z" fill="#000"/>
<text x="836.09" y="987.75" font-family="Liberation Sans, sans-serif" font-size="38.5">0</text>
<path d="M829.02,898.13 L825.64,898.13 L825.64,876.56 L819.19,880.45 L819.19,877.22 Q823.14,873.59 826.86,870.45 L829.02,870.45 Z" fill="#000"/>
<text x="836.09" y="898.13" font-family="Liberation Sans, sans-serif" font-size="38.5">5</text>
<text x="814.68" y="808.50" font-family="Liberation Sans, sans-serif" font-size="38.5">20</text>
<text x="814.68" y="718.88" font-family="Liberation Sans, sans-serif" font-size="38.5">25</text>
<text x="855.50" y="1196.40" font-family="Liberation Sans, sans-serif" font-size="37.7">0.0</text>
<text x="974.04" y="1196.40" font-family="Liberation Sans, sans-serif" font-size="37.7">0.2</text>
<text x="1092.58" y="1196.40" font-family="Liberation Sans, sans-serif" font-size="37.7">0.4</text>
<text x="1211.12" y="1196.40" font-family="Liberation Sans, sans-serif" font-size="37.7">0.6</text>
<text x="1329.66" y="1196.40" font-family="Liberation Sans, sans-serif" font-size="37.7">0.8</text>
<path d="M1462.24,1196.40 L1458.93,1196.40 L1458.93,1175.29 L1452.61,1179.10 L1452.61,1175.93 Q1456.48,1172.38 1460.12,1169.30 L1462.24,1169.30 Z" fill="#000"/>
<text x="1469.16" y="1196.40" font-family="Liberation Sans, sans-serif" font-size="37.7">.0</text>
<text x="1171.60" y="1247.80" font-family="Liberation Sans, sans-serif" font-size="36.8" font-weight="bold" text-anchor="middle">Strain (%)</text>
<text transform="translate(798.10,908.80) rotate(-90)" font-family="Liberation Sans, sans-serif" font-size="36.8" font-weight="bold" text-anchor="middle">Stress (MPa)</text>
<text x="886.80" y="711.10" font-family="Liberation Sans, sans-serif" font-size="42.5" font-weight="bold">(d)</text>
<line x1="1268.50" y1="706.00" x2="1358.50" y2="706.00" stroke="#ff0000" stroke-width="3.6" stroke-linecap="round"/>
<path d="M1384.87,720.90 L1381.27,720.90 L1381.27,697.94 L1374.40,702.08 L1374.40,698.64 Q1378.61,694.77 1382.57,691.43 L1384.87,691.43 Z" fill="#000"/>
<text x="1392.40" y="720.90" font-family="Liberation Sans, sans-serif" font-size="41">5-</text>
<path d="M1444.13,720.90 L1440.53,720.90 L1440.53,697.94 L1433.66,702.08 L1433.66,698.64 Q1437.87,694.77 1441.83,691.43 L1444.13,691.43 Z" fill="#000"/>
<line x1="1268.50" y1="756.60" x2="1358.50" y2="756.60" stroke="#0000ff" stroke-width="3.6" stroke-linecap="round"/>
<path d="M1384.87,771.40 L1381.27,771.40 L1381.27,748.44 L1374.40,752.58 L1374.40,749.14 Q1378.61,745.27 1382.57,741.93 L1384.87,741.93 Z" fill="#000"/>
<text x="1392.40" y="771.40" font-family="Liberation Sans, sans-serif" font-size="41">5-2</text>
<line x1="1268.50" y1="806.60" x2="1358.50" y2="806.60" stroke="#000000" stroke-width="3.6" stroke-linecap="round"/>
<path d="M1384.87,821.30 L1381.27,821.30 L1381.27,798.34 L1374.40,802.48 L1374.40,799.04 Q1378.61,795.17 1382.57,791.83 L1384.87,791.83 Z" fill="#000"/>
<text x="1392.40" y="821.30" font-family="Liberation Sans, sans-serif" font-size="41">5-3</text>
<path d="M882.2,1142.2 C883.7,1140.6 888.1,1136.0 890.9,1132.8 C893.8,1129.5 898.0,1124.3 899.4,1122.6 C896.7,1122.3 886.1,1121.2 883.4,1120.9 C884.5,1118.2 887.6,1110.6 889.8,1104.4 C892.0,1098.2 894.4,1091.3 896.8,1083.7 C899.2,1076.1 901.8,1067.4 904.3,1058.7 C906.7,1050.0 909.2,1040.5 911.7,1031.3 C914.1,1022.1 916.6,1012.7 919.0,1003.5 C921.5,994.4 923.9,985.3 926.4,976.3 C928.9,967.3 931.3,958.4 933.8,949.4 C936.2,940.4 938.8,931.3 941.2,922.5 C943.7,913.7 946.3,904.5 948.6,896.6 C950.9,888.8 952.8,882.1 954.9,875.3 C957.0,868.5 958.7,863.2 961.2,855.9 C963.6,848.6 966.5,840.1 969.6,831.6 C972.8,823.0 976.5,813.1 979.9,804.8 C983.3,796.5 986.7,788.7 990.0,781.7 C993.3,774.6 996.3,768.3 999.8,762.3 C1003.2,756.3 1006.5,750.5 1010.5,745.4 C1014.6,740.3 1019.1,735.4 1024.0,731.5 C1029.0,727.6 1034.7,724.3 1040.3,721.8 C1045.9,719.4 1052.0,717.9 1057.6,716.9 C1063.3,715.9 1068.8,715.7 1074.2,715.8 C1079.6,715.9 1084.5,716.6 1089.9,717.8 C1095.4,719.0 1100.9,720.7 1106.9,723.1 C1113.0,725.5 1119.8,728.7 1126.3,732.3 C1132.7,735.9 1139.7,740.2 1145.7,744.5 C1151.7,748.8 1157.2,753.3 1162.3,758.2 C1167.5,763.1 1172.1,768.0 1176.7,773.8 C1181.4,779.5 1185.9,785.9 1190.2,792.9 C1194.5,799.9 1198.6,807.9 1202.3,815.7 C1206.0,823.5 1209.5,831.8 1212.5,839.8 C1215.5,847.8 1218.3,856.0 1220.5,863.6 C1222.8,871.1 1224.5,878.2 1226.0,885.2 C1227.5,892.3 1228.4,898.7 1229.3,905.9 C1230.2,913.1 1231.0,921.2 1231.5,928.5 C1232.1,935.9 1232.5,943.6 1232.7,949.9 C1232.8,956.3 1232.6,961.4 1232.2,966.6 C1231.9,971.9 1231.4,976.5 1230.8,981.6 C1230.1,986.6 1229.4,991.8 1228.6,996.9 C1227.7,1002.0 1226.6,1007.2 1225.4,1012.4 C1224.3,1017.5 1222.9,1022.6 1221.5,1027.8 C1220.2,1033.0 1218.8,1038.4 1217.2,1043.6 C1215.7,1048.8 1214.1,1054.3 1212.4,1059.0 C1210.7,1063.7 1208.8,1068.2 1207.0,1071.7 C1205.2,1075.3 1203.4,1077.8 1201.4,1080.2 C1199.4,1082.6 1197.4,1084.4 1195.3,1086.4 C1193.1,1088.3 1190.7,1090.2 1188.4,1091.8 C1186.2,1093.5 1183.8,1095.0 1181.7,1096.2 C1179.5,1097.3 1177.5,1098.1 1175.4,1098.7 C1173.2,1099.3 1171.1,1099.3 1169.0,1099.6 C1166.9,1099.9 1164.7,1099.9 1162.6,1100.4 C1160.6,1100.8 1158.6,1101.5 1156.8,1102.3 C1155.1,1103.1 1153.5,1104.3 1152.1,1105.2 C1150.6,1106.2 1149.5,1107.0 1148.2,1107.9 C1147.0,1108.8 1145.7,1109.5 1144.5,1110.6 C1143.3,1111.7 1142.0,1112.9 1141.0,1114.4 C1139.9,1116.0 1139.1,1117.8 1138.2,1120.0 C1137.4,1122.3 1136.7,1125.0 1135.8,1127.8 C1134.9,1130.5 1133.9,1133.7 1132.9,1136.5 C1131.8,1139.3 1130.1,1143.3 1129.6,1144.6" fill="none" stroke="#ff0000" stroke-width="3.9" stroke-linejoin="round" stroke-linecap="round"/>
<path d="M883.4,1144.7 C885.7,1142.9 892.5,1138.6 897.2,1134.1 C901.9,1129.7 907.0,1124.5 911.8,1118.0 C916.7,1111.4 921.7,1103.3 926.2,1094.9 C930.6,1086.4 934.8,1076.6 938.5,1067.3 C942.3,1057.9 945.7,1048.1 948.9,1038.5 C952.2,1029.0 955.2,1019.3 958.0,1010.0 C960.8,1000.6 963.5,991.1 966.0,982.2 C968.5,973.3 970.7,964.7 972.9,956.4 C975.1,948.2 977.1,940.3 979.2,932.4 C981.3,924.6 983.2,916.9 985.4,909.5 C987.5,902.1 989.5,895.6 992.1,888.0 C994.7,880.5 997.3,873.3 1001.0,864.5 C1004.6,855.6 1009.1,845.0 1013.9,835.1 C1018.7,825.2 1024.4,814.1 1029.7,804.9 C1035.1,795.7 1040.5,787.5 1046.0,780.0 C1051.4,772.4 1056.8,766.0 1062.5,759.7 C1068.2,753.4 1074.1,747.4 1080.0,741.9 C1086.0,736.4 1092.2,731.0 1098.2,726.7 C1104.2,722.4 1110.4,718.4 1116.3,716.0 C1122.3,713.5 1128.2,711.9 1133.9,711.9 C1139.7,711.9 1145.3,713.4 1150.7,716.1 C1156.1,718.8 1161.5,723.2 1166.4,728.1 C1171.3,733.0 1176.0,739.3 1180.0,745.6 C1184.1,751.9 1187.6,758.7 1190.6,765.8 C1193.7,773.0 1196.3,780.6 1198.4,788.6 C1200.5,796.7 1202.2,805.5 1203.2,814.1 C1204.2,822.6 1204.6,831.6 1204.7,839.9 C1204.7,848.1 1204.2,855.8 1203.6,863.6 C1203.0,871.4 1202.0,879.1 1201.0,886.7 C1200.1,894.4 1198.9,902.6 1197.8,909.7 C1196.8,916.8 1195.7,923.3 1194.6,929.5 C1193.6,935.8 1192.5,941.2 1191.3,947.1 C1190.1,953.1 1188.8,959.4 1187.5,965.1 C1186.1,970.8 1184.7,976.3 1183.3,981.2 C1181.9,986.0 1180.5,990.0 1179.1,994.2 C1177.7,998.5 1176.4,1002.5 1175.1,1006.7 C1173.7,1011.0 1172.5,1015.2 1171.0,1019.5 C1169.5,1023.8 1167.9,1028.3 1166.3,1032.6 C1164.6,1036.9 1162.6,1041.7 1161.1,1045.5 C1159.5,1049.2 1158.1,1052.5 1156.8,1055.0 C1155.4,1057.4 1154.4,1058.6 1153.0,1060.2 C1151.6,1061.8 1150.0,1062.8 1148.4,1064.5 C1146.7,1066.2 1144.7,1068.3 1143.1,1070.2 C1141.6,1072.2 1140.0,1074.4 1138.9,1076.4 C1137.7,1078.4 1137.0,1080.0 1136.3,1082.2 C1135.5,1084.4 1135.2,1086.4 1134.6,1089.5 C1134.0,1092.5 1133.4,1096.2 1132.6,1100.6 C1131.9,1105.0 1131.0,1110.6 1130.1,1115.8 C1129.2,1121.1 1128.3,1127.2 1127.4,1132.2 C1126.5,1137.1 1125.7,1141.7 1124.8,1145.5 C1123.9,1149.4 1122.6,1153.7 1122.2,1155.3" fill="none" stroke="#0000ff" stroke-width="3.9" stroke-linejoin="round" stroke-linecap="round"/>
<path d="M882.2,1143.5 C883.9,1142.1 889.0,1138.6 892.2,1135.2 C895.4,1131.8 898.6,1127.9 901.4,1123.3 C904.3,1118.7 906.8,1113.4 909.4,1107.5 C911.9,1101.7 914.2,1095.1 916.6,1088.3 C919.1,1081.4 921.5,1074.0 923.9,1066.5 C926.4,1059.0 928.8,1051.2 931.3,1043.5 C933.8,1035.8 936.2,1028.1 938.7,1020.3 C941.1,1012.6 943.6,1005.1 946.0,997.0 C948.5,988.9 950.9,980.3 953.3,971.7 C955.8,963.1 958.1,953.7 960.6,945.1 C963.1,936.5 965.6,928.2 968.4,920.0 C971.2,911.8 974.2,904.4 977.5,895.9 C980.8,887.3 984.4,878.3 988.4,868.8 C992.4,859.3 996.7,848.3 1001.4,838.8 C1006.1,829.3 1011.3,819.8 1016.7,811.7 C1022.0,803.5 1027.9,796.5 1033.8,789.7 C1039.6,783.0 1045.8,776.7 1052.0,771.1 C1058.1,765.4 1064.6,760.2 1070.9,755.9 C1077.1,751.6 1083.7,748.1 1089.6,745.4 C1095.4,742.6 1100.9,740.8 1106.1,739.6 C1111.2,738.3 1115.5,737.7 1120.3,738.0 C1125.1,738.3 1129.9,739.2 1134.8,741.2 C1139.8,743.2 1145.2,746.3 1150.1,750.0 C1154.9,753.7 1159.7,758.4 1163.9,763.5 C1168.0,768.7 1171.6,774.6 1175.0,780.9 C1178.3,787.1 1181.3,794.1 1183.9,801.2 C1186.5,808.2 1188.8,815.9 1190.7,823.3 C1192.6,830.7 1194.2,838.6 1195.2,845.6 C1196.3,852.6 1197.0,859.0 1197.2,865.2 C1197.4,871.4 1197.1,876.3 1196.6,882.7 C1196.1,889.2 1195.2,896.1 1194.4,903.7 C1193.5,911.3 1192.5,920.5 1191.5,928.3 C1190.6,936.2 1189.6,943.9 1188.5,950.8 C1187.4,957.6 1186.3,963.5 1185.1,969.5 C1183.9,975.4 1182.7,980.9 1181.5,986.4 C1180.3,991.8 1179.1,997.0 1177.9,1002.2 C1176.7,1007.4 1175.4,1012.4 1174.0,1017.6 C1172.7,1022.8 1171.2,1028.0 1169.9,1033.2 C1168.5,1038.3 1167.2,1043.7 1165.9,1048.5 C1164.6,1053.3 1163.5,1057.9 1162.1,1061.8 C1160.8,1065.8 1159.4,1069.1 1157.8,1072.1 C1156.3,1075.1 1154.5,1077.6 1152.8,1079.6 C1151.1,1081.7 1149.3,1083.3 1147.5,1084.6 C1145.7,1085.9 1143.1,1087.0 1142.2,1087.5 C1141.4,1086.5 1138.7,1083.6 1137.4,1081.5 C1136.1,1079.4 1135.1,1077.1 1134.4,1075.2 C1133.6,1073.2 1133.1,1070.5 1132.8,1069.6 C1132.4,1070.6 1131.6,1073.0 1130.7,1075.5 C1129.8,1077.9 1128.6,1081.1 1127.4,1084.3 C1126.1,1087.6 1123.8,1093.1 1123.1,1094.9" fill="none" stroke="#000000" stroke-width="3.9" stroke-linejoin="round" stroke-linecap="round"/>
</svg></body></html>
